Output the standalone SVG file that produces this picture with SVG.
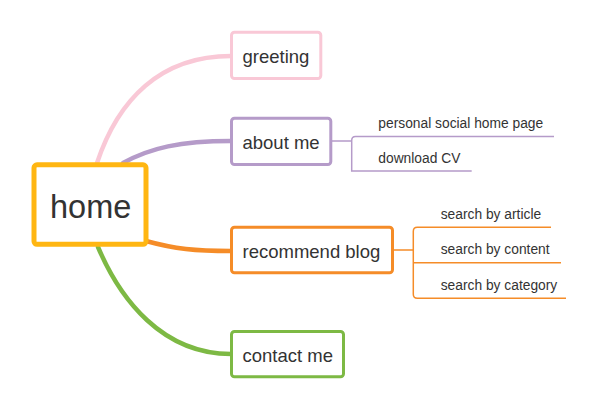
<svg xmlns="http://www.w3.org/2000/svg" width="597" height="406" viewBox="0 0 597 406">
<style>
text{font-family:"Liberation Sans",Arial,sans-serif;fill:#333333}
.main{font-size:18.5px}
.sub{font-size:13.8px}
.box{fill:#ffffff;stroke-width:3}
.conn{fill:none;stroke-width:4.5;stroke-linecap:round}
.thin{fill:none;stroke-width:1.5}
</style>
<rect width="597" height="406" fill="#ffffff"/>
<g id="connectors">
<path class="conn" stroke="#F9C8D6" d="M97,163 C118,100 160,56 231,56"/>
<path class="conn" stroke="#B59BC9" d="M123,163 C150,148 180,141 231,141"/>
<path class="conn" stroke="#F58C28" d="M146,241 C175,249 195,251 231,251"/>
<path class="conn" stroke="#7DB944" d="M98,247 C120,299 162,354 231,354"/>
<path class="thin" stroke="#B59BC9" d="M332,141 H351.7 M554,136.5 H355.5 Q351.7,136.5 351.7,140.5 V171 H471.7"/>
<path class="thin" stroke="#F58C28" d="M394,250 H413.3 M551,227.3 H417.3 Q413.3,227.3 413.3,231.3 V294.3 Q413.3,298.3 417.3,298.3 H566 M413.3,262.7 H561"/>
</g>
<g id="home">
<rect x="34" y="164.8" width="112" height="79.5" rx="3" fill="#ffffff" stroke="#FFB612" stroke-width="5"/>
<text x="50" y="217.7" font-size="32.5">home</text>
</g>
<g id="greeting">
<rect class="box" x="231.5" y="32.2" width="89.3" height="46.3" rx="3" stroke="#F9C8D6"/>
<text class="main" x="242.5" y="63.3">greeting</text>
</g>
<g id="about-me">
<rect class="box" x="231.5" y="118.2" width="99.3" height="46.3" rx="3" stroke="#B59BC9"/>
<text class="main" x="242.5" y="149.3">about me</text>
</g>
<g id="recommend-blog">
<rect class="box" x="231.5" y="227.2" width="161" height="45.6" rx="3" stroke="#F58C28"/>
<text class="main" x="242.5" y="258.3">recommend blog</text>
</g>
<g id="contact-me">
<rect class="box" x="231.5" y="331.5" width="112" height="45.3" rx="3" stroke="#7DB944"/>
<text class="main" x="242.5" y="361.7">contact me</text>
</g>
<g id="personal-social-home-page"><text class="sub" x="378.3" y="128.3">personal social home page</text></g>
<g id="download-cv"><text class="sub" x="378.3" y="163.3">download CV</text></g>
<g id="search-by-article"><text class="sub" x="440.7" y="219.3">search by article</text></g>
<g id="search-by-content"><text class="sub" x="440.7" y="254.3">search by content</text></g>
<g id="search-by-category"><text class="sub" x="440.7" y="290">search by category</text></g>
</svg>
